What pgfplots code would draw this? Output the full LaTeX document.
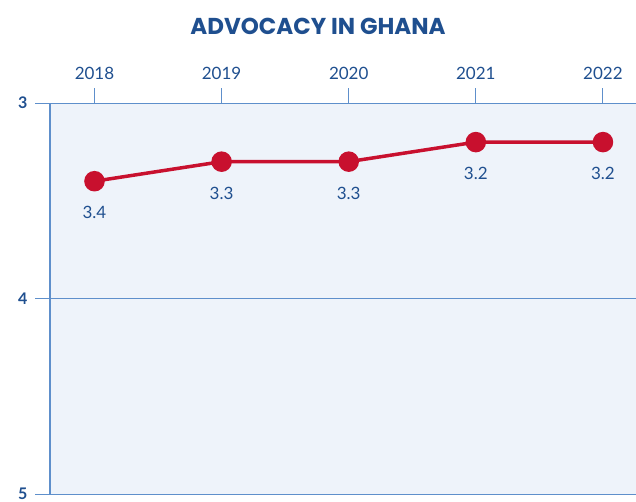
\documentclass[border=0pt]{standalone}
\usepackage{fontspec}
\setmainfont{Lato}
\newfontfamily\titlefont{Poppins}
\usepackage{pgfplots}
\pgfplotsset{compat=1.18}
\definecolor{navy}{HTML}{1F4F8F}
\definecolor{axblue}{HTML}{5E8FCB}
\definecolor{bgblue}{HTML}{EEF3FA}
\definecolor{linered}{HTML}{C8102E}
\begin{document}
\begin{tikzpicture}
\begin{axis}[
  at={(0,0)}, anchor=south west,
  scale only axis, width=586pt, height=391pt,
  xmin=2017.65, xmax=2022.26,
  ymin=3, ymax=5, y dir=reverse,
  xtick={2018,2019,2020,2021,2022},
  ytick={3,4,5},
  xticklabel pos=upper, xtick pos=upper, ytick pos=left,
  tick align=outside, major tick length=15pt,
  tick style={axblue, line width=1pt},
  axis line style={draw=none},
  ymajorgrids, grid style={axblue, line width=1pt},
  axis background/.style={fill=bgblue},
  /pgf/number format/assume math mode=true,
  /pgf/number format/set thousands separator={},
  xticklabel style={font=\fontsize{17}{20}\selectfont, text=navy, yshift=5pt},
  yticklabel style={font=\fontsize{16}{18}\selectfont\bfseries, text=navy, xshift=-4pt},
  clip=false,
  nodes near coords,
  point meta=explicit symbolic,
  every node near coord/.append style={font=\fontsize{17}{20}\selectfont, text=navy, anchor=north, yshift=-20pt},
]
\addplot[linered, line width=3.5pt, mark=*, mark size=8.5pt, mark options={fill=linered, draw=linered}]
  table[meta=lab] {
x y lab
2018 3.4 3.4
2019 3.3 3.3
2020 3.3 3.3
2021 3.2 3.2
2022 3.2 3.2
};
\draw[axblue, line width=1.2pt] (rel axis cs:0,0) -- (rel axis cs:0,1);
\end{axis}
\node[font=\fontsize{23}{26}\titlefont\bfseries, text=navy] at (268pt, 468pt) {ADVOCACY IN GHANA};
\pgfresetboundingbox
\path[use as bounding box] (-50pt,-7pt) rectangle (586pt,494pt);
\end{tikzpicture}
\end{document}
